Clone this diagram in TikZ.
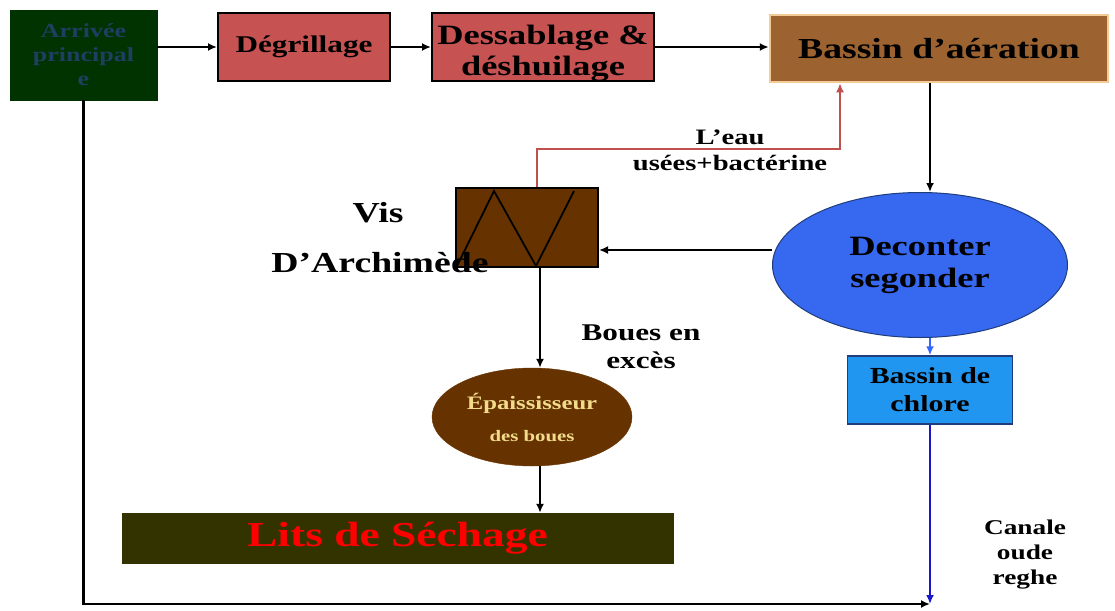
\documentclass[tikz,border=0pt]{standalone}
\usepackage{fontspec}
\setmainfont{Liberation Serif}[FakeStretch=1.3]
\usetikzlibrary{shapes.geometric,arrows.meta,calc}
\definecolor{darkgreen}{HTML}{003300}
\definecolor{arrtext}{HTML}{1E3F62}
\definecolor{redbox}{HTML}{C65352}
\definecolor{brownbox}{HTML}{9C6330}
\definecolor{lightorange}{HTML}{F5CB95}
\definecolor{blueell}{HTML}{3768F0}
\definecolor{bluebox}{HTML}{2196F0}
\definecolor{darkbluebd}{HTML}{1F3D7A}
\definecolor{visbrown}{HTML}{663300}
\definecolor{cream}{HTML}{F2DC8C}
\definecolor{olive}{HTML}{333300}
\definecolor{pinkline}{HTML}{C0504D}
\definecolor{blueline}{HTML}{3366FF}
\definecolor{navyline}{HTML}{1818C8}
\tikzset{
  every node/.style={font=\bfseries, align=center, inner sep=0pt},
  boxnode/.style={draw=black, line width=2pt, rectangle},
  conn/.style={line width=2.2pt, -{Latex[length=9pt,width=8pt]}},
  lbl/.style={text=black},
}
\newcommand{\fs}[2]{\fontsize{#1}{#2}\selectfont}
\begin{document}
\begin{tikzpicture}[x=1pt,y=-1pt]
\useasboundingbox (0,0) rectangle (1115,610);
% nodes
\node[rectangle, fill=darkgreen, draw=darkgreen, minimum width=147pt, minimum height=90pt, text=arrtext, font=\bfseries\fs{20}{24}] (arr) at (83.5,55) {Arrivée\\principal\\e};
\node[boxnode, fill=redbox, minimum width=172pt, minimum height=68pt, font=\bfseries\fs{24}{28}] (deg) at (304,47) {Dégrillage};
\node[boxnode, fill=redbox, minimum width=222pt, minimum height=68pt,
  label={[font=\bfseries\fs{28}{31}, align=center, yshift=-6pt]center:Dessablage \&\\déshuilage}] (des) at (543,47) {};
\node[rectangle, fill=brownbox, draw=lightorange, line width=2.5pt, minimum width=338pt, minimum height=67pt, font=\bfseries\fs{29}{32}] (bas) at (939,48.5) {Bassin d’aération};
\node[ellipse, fill=blueell, draw=darkbluebd, line width=1pt, minimum width=295pt, minimum height=145pt, font=\bfseries\fs{28}{32}] (dec) at (920,265) {Deconter\\segonder};
\node[rectangle, fill=bluebox, draw=darkbluebd, line width=1.5pt, minimum width=165pt, minimum height=68pt, font=\bfseries\fs{23}{28}] (chl) at (930,390) {Bassin de\\chlore};
\node[boxnode, fill=visbrown, minimum width=142pt, minimum height=79pt] (vis) at (527,227.5) {};
\node[ellipse, fill=visbrown, draw=visbrown, minimum width=200pt, minimum height=98pt, text=cream, font=\bfseries\fs{19}{32}] (epa) at (532,417) {Épaississeur\\{\fs{16}{20}des boues}};
\node[rectangle, fill=olive, draw=olive, minimum width=551pt, minimum height=50pt, text=red, font=\bfseries\fs{35}{40}] (lit) at (397.5,538) {Lits de Séchage};
% labels
\node[lbl, font=\bfseries\fs{22}{26}] (eau) at (730,150) {L’eau\\usées+bactérine};
\node[lbl, font=\bfseries\fs{29}{32}] (vist) at (378,213) {Vis};
\node[lbl, font=\bfseries\fs{29}{32}] (archi) at (380,263) {D’Archimède};
\node[lbl, font=\bfseries\fs{24}{28}] (boues) at (641,347) {Boues en\\excès};
\node[lbl, font=\bfseries\fs{21}{25}] (canale) at (1025,555) {Canale\\oude\\reghe};
\coordinate (end) at (930,604);
% zigzag inside the screw
\draw[line width=1.8pt] ($(vis.south west)+(2,-2)$) -- ($(vis.south west)+(39,-77)$) -- ($(vis.south west)+(81,-2)$) -- ($(vis.south west)+(119,-77)$);
% connectors
\draw[conn] (arr.east |- deg) -- (deg.west);
\draw[conn] (deg.east) -- (des.west |- deg);
\draw[conn] (des.east |- deg) -- (bas.west |- deg);
\draw[conn] (bas.south -| chl) -- (dec.north -| chl);
\draw[conn, blueline] (dec.south -| chl) -- (chl.north);
\draw[conn, navyline, line width=2.8pt] (chl.south) -- (end);
\draw[conn] (arr.south) -- (arr.south |- end) -- (end);
\coordinate (visin) at ($(vis.east)+(0,22.5)$);
\draw[conn] (visin -| dec.west) -- (visin);
\draw[conn] ([xshift=13pt]vis.south) -- ([xshift=13pt]vis.south |- epa.north);
\draw[conn] ([xshift=8pt]epa.south) -- ([xshift=8pt]epa.south |- lit.north);
\draw[conn, pinkline, line width=2.8pt] ([xshift=10pt]vis.north) -- ++(0,-38) -| ([xshift=-99pt]bas.south);
\end{tikzpicture}
\end{document}
